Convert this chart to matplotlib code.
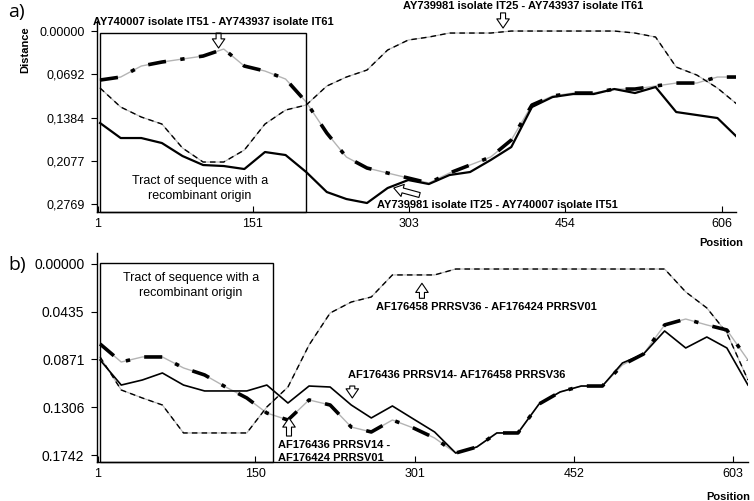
import matplotlib
matplotlib.use("Agg")
import matplotlib.pyplot as plt
from matplotlib.patches import Rectangle

plt.rcParams["font.family"] = ["Liberation Sans", "DejaVu Sans"]

# ---------------------------------------------------------------------------
# Panel a data
# ---------------------------------------------------------------------------
pos_a = [3, 23, 43, 63, 83, 103, 123, 143, 163, 183, 203, 223, 242, 262, 282, 302,
         322, 342, 362, 382, 402, 422, 442, 462, 482, 502, 522, 542, 562, 582, 602, 622]

# AY740007 isolate IT51 - AY743937 isolate IT61 (thick dash-dot)
dist_a_51_61 = [0.0784, 0.0736, 0.0560, 0.0496, 0.0448, 0.0400, 0.0288, 0.0560,
                0.0640, 0.0768, 0.1136, 0.1632, 0.2016, 0.2192, 0.2272, 0.2352,
                0.2432, 0.2272, 0.2144, 0.2016, 0.1744, 0.1184, 0.1040, 0.0992,
                0.0992, 0.0928, 0.0928, 0.0880, 0.0832, 0.0832, 0.0736, 0.0736]
# AY739981 isolate IT25 - AY743937 isolate IT61 (dashed)
dist_a_25_61 = [0.0912, 0.1216, 0.1376, 0.1488, 0.1872, 0.2096, 0.2096, 0.1904,
                0.1488, 0.1264, 0.1184, 0.0880, 0.0736, 0.0624, 0.0304, 0.0144,
                0.0096, 0.0032, 0.0032, 0.0032, 0.0000, 0.0000, 0.0000, 0.0000,
                0.0000, 0.0000, 0.0032, 0.0096, 0.0576, 0.0704, 0.0912, 0.1184]
# AY739981 isolate IT25 - AY740007 isolate IT51 (solid)
dist_a_25_51 = [0.1472, 0.1712, 0.1712, 0.1792, 0.2000, 0.2144, 0.2160, 0.2208,
                0.1936, 0.1984, 0.2256, 0.2576, 0.2688, 0.2752, 0.2512, 0.2384,
                0.2448, 0.2304, 0.2256, 0.2064, 0.1856, 0.1216, 0.1056, 0.1008,
                0.1008, 0.0928, 0.0992, 0.0896, 0.1296, 0.1344, 0.1392, 0.1712]

yticks_a = [0.0, 0.0692, 0.1384, 0.2077, 0.2769]
ylabels_a = ["0.00000", "0,0692", "0,1384", "0,2077", "0,2769"]
xticks_a = [1, 151, 303, 454, 606]

# ---------------------------------------------------------------------------
# Panel b data
# ---------------------------------------------------------------------------
pos_b = [3, 23, 43, 62, 82, 102, 122, 142, 161, 181, 201, 221, 241, 260, 280, 300,
         320, 340, 360, 379, 399, 419, 439, 459, 479, 498, 518, 538, 558, 578, 597, 617]

# AF176436 PRRSV14 - AF176424 PRRSV01 (thick dash-dot)
dist_b_14_01 = [0.0730, 0.0894, 0.0848, 0.0848, 0.0948, 0.1012, 0.1122, 0.1222,
                0.1359, 0.1423, 0.1240, 0.1286, 0.1487, 0.1532, 0.1423, 0.1496,
                0.1587, 0.1724, 0.1669, 0.1541, 0.1541, 0.1277, 0.1167, 0.1113,
                0.1113, 0.0921, 0.0821, 0.0556, 0.0502, 0.0556, 0.0602, 0.0876]
# AF176458 PRRSV36 - AF176424 PRRSV01 (dashed)
dist_b_36_01 = [0.0848, 0.1149, 0.1222, 0.1286, 0.1541, 0.1541, 0.1541, 0.1541,
                0.1304, 0.1122, 0.0739, 0.0447, 0.0347, 0.0301, 0.0100, 0.0100,
                0.0100, 0.0046, 0.0046, 0.0046, 0.0046, 0.0046, 0.0046, 0.0046,
                0.0046, 0.0046, 0.0046, 0.0046, 0.0255, 0.0401, 0.0629, 0.1058]
# AF176436 PRRSV14 - AF176458 PRRSV36 (solid)
dist_b_14_36 = [0.0876, 0.1104, 0.1058, 0.0994, 0.1104, 0.1158, 0.1158, 0.1158,
                0.1104, 0.1268, 0.1113, 0.1122, 0.1286, 0.1404, 0.1295, 0.1414,
                0.1532, 0.1724, 0.1669, 0.1541, 0.1541, 0.1277, 0.1167, 0.1113,
                0.1113, 0.0903, 0.0821, 0.0611, 0.0766, 0.0666, 0.0766, 0.1104]

yticks_b = [0.0, 0.0435, 0.0871, 0.1306, 0.1742]
ylabels_b = ["0.00000", "0.0435", "0.0871", "0.1306", "0.1742"]
xticks_b = [1, 150, 301, 452, 603]

GREY = "#b4b4b4"
ARROW = dict(arrowstyle="simple,head_length=0.55,head_width=0.75,tail_width=0.3",
             fc="white", ec="black", lw=0.8, shrinkA=0, shrinkB=0, mutation_scale=12)


def dashdot_thick(ax, x, y):
    ax.plot(x, y, color=GREY, lw=1.0, zorder=2)
    ax.plot(x, y, color="black", lw=2.6, linestyle=(0, (5, 4, 1.2, 4)),
            dash_capstyle="butt", zorder=3)


def dashed_thin(ax, x, y):
    ax.plot(x, y, color=GREY, lw=0.8, zorder=2)
    ax.plot(x, y, color="black", lw=1.0, linestyle=(0, (4, 3)), zorder=3)


def style_axes(ax, xticks, yticks, ylabels, ysize):
    for side in ("top", "right"):
        ax.spines[side].set_visible(False)
    ax.spines["left"].set_linewidth(1.0)
    ax.spines["bottom"].set_linewidth(1.0)
    ax.set_xticks(xticks)
    ax.set_xticklabels([str(t) for t in xticks], fontsize=9)
    ax.set_yticks(yticks)
    ax.set_yticklabels(ylabels, fontsize=ysize)
    ax.tick_params(axis="y", direction="out", length=4, pad=5)
    ax.tick_params(axis="x", direction="in", length=4, pad=4)


fig = plt.figure(figsize=(7.54, 5.01), dpi=100)

# ---------------------------------------------------------------- panel a
ax1 = fig.add_axes([0.1286, 0.5768, 0.8475, 0.3812])
ax1.plot(pos_a, dist_a_25_51, color="black", lw=1.6, zorder=3)
dashed_thin(ax1, pos_a, dist_a_25_61)
dashdot_thick(ax1, pos_a, dist_a_51_61)
ax1.set_xlim(0, 620)
ax1.set_ylim(0.2896, -0.016)
style_axes(ax1, xticks_a, yticks_a, ylabels_a, 9)

ax1.add_patch(Rectangle((3, 0.0032), 200, 0.2896 - 0.0032, fill=False,
                        ec="black", lw=1.0, zorder=4, clip_on=False))
ax1.text(100, 0.252, "Tract of sequence with a\nrecombinant origin", ha="center",
         va="center", fontsize=9, linespacing=1.25)

ax1.text(-4, -0.0144, "AY740007 isolate IT51 - AY743937 isolate IT61",
         fontsize=8, fontweight="bold", ha="left", va="center")
ax1.annotate("", xy=(118, 0.0272), xytext=(118, 0.0032), arrowprops=ARROW,
             annotation_clip=False)
ax1.text(297, -0.040, "AY739981 isolate IT25 - AY743937 isolate IT61",
         fontsize=8, fontweight="bold", ha="left", va="center")
ax1.annotate("", xy=(394, -0.0048), xytext=(394, -0.029), arrowprops=ARROW,
             annotation_clip=False)
ax1.text(272, 0.2784, "AY739981 isolate IT25 - AY740007 isolate IT51",
         fontsize=8, fontweight="bold", ha="left", va="center", zorder=5)
ax1.annotate("", xy=(288, 0.2512), xytext=(313, 0.2624), arrowprops=ARROW,
             annotation_clip=False)

# ---------------------------------------------------------------- panel b
ax2 = fig.add_axes([0.1286, 0.0778, 0.8634, 0.4172])
ax2.plot(pos_b, dist_b_14_36, color="black", lw=1.2, zorder=3)
dashed_thin(ax2, pos_b, dist_b_36_01)
dashdot_thick(ax2, pos_b, dist_b_14_01)
ax2.set_xlim(0, 617)
ax2.set_ylim(0.1806, -0.010)
style_axes(ax2, xticks_b, yticks_b, ylabels_b, 10)

ax2.add_patch(Rectangle((3, -0.0009), 164, 0.1806 + 0.0009, fill=False,
                        ec="black", lw=1.0, zorder=4, clip_on=False))
ax2.text(89, 0.0196, "Tract of sequence with a\nrecombinant origin", ha="center",
         va="center", fontsize=9, linespacing=1.25)

ax2.text(264, 0.0392, "AF176458 PRRSV36 - AF176424 PRRSV01",
         fontsize=8, fontweight="bold", ha="left", va="center")
ax2.annotate("", xy=(308, 0.0176), xytext=(308, 0.0313), arrowprops=ARROW)
ax2.text(238, 0.1012, "AF176436 PRRSV14- AF176458 PRRSV36",
         fontsize=8, fontweight="bold", ha="left", va="center")
ax2.annotate("", xy=(242, 0.1222), xytext=(242, 0.1113), arrowprops=ARROW)
ax2.text(172, 0.171, "AF176436 PRRSV14 -\nAF176424 PRRSV01",
         fontsize=8, fontweight="bold", ha="left", va="center", linespacing=1.3,
         zorder=5)
ax2.annotate("", xy=(182, 0.1404), xytext=(182, 0.1569), arrowprops=ARROW)

# ---------------------------------------------------------------- labels
fig.text(8 / 754, 1 - 12 / 501, "a)", fontsize=14, ha="left", va="center",
         family=["Open Sans", "DejaVu Sans"])
fig.text(8 / 754, 1 - 265 / 501, "b)", fontsize=14, ha="left", va="center",
         family=["Open Sans", "DejaVu Sans"])
fig.text(25 / 754, 1 - 50 / 501, "Distance", fontsize=8, fontweight="bold",
         rotation=90, ha="center", va="center")
fig.text(743 / 754, 1 - 243 / 501, "Position", fontsize=8, fontweight="bold",
         ha="right", va="center")
fig.text(750 / 754, 1 - 497 / 501, "Position", fontsize=8, fontweight="bold",
         ha="right", va="center")

fig.savefig("out.png", dpi=100)
